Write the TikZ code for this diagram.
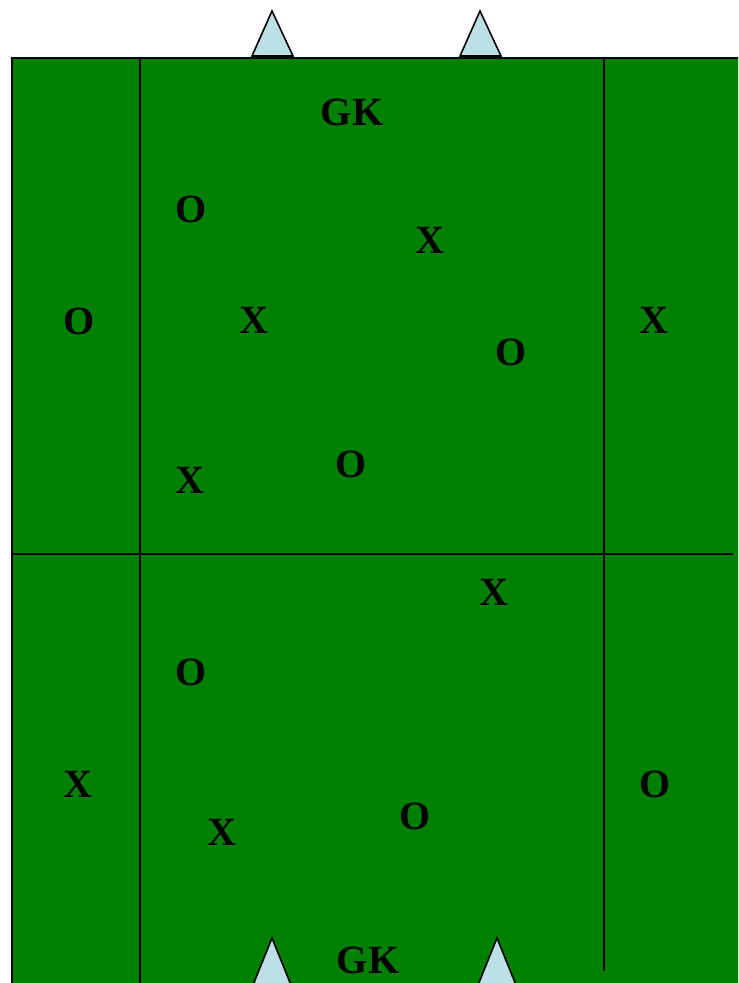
\documentclass[tikz,border=0pt]{standalone}
\usepackage{fontspec}
\setmainfont{Liberation Serif}
\usepackage{tikz}
\usetikzlibrary{positioning}
\definecolor{pitchgreen}{RGB}{0,128,0}
\definecolor{goalblue}{RGB}{188,224,230}

\begin{document}
\begin{tikzpicture}[
  x=0.02cm, y=-0.02cm,
  pitchline/.style={draw=black, line width=1.1pt},
  goalpost/.style={fill=goalblue, draw=black, line width=0.9pt, line join=miter},
  player/.style={font=\fontsize{22.8}{24}\selectfont\bfseries, inner sep=0pt, anchor=center}
]
  \useasboundingbox (0,0) rectangle (738,983);

  %% --- Pitch ---
  \begin{scope}
    \clip (0,0) rectangle (738,983);
    \fill[pitchgreen] (12,58) rectangle (745,990);
    \draw[pitchline] (12,990) -- (12,58) -- (745,58);

    %% --- Zone lines ---
    \draw[pitchline] (140,58) -- (140,990);
    \draw[pitchline] (604,58) -- (604,971);
    \draw[pitchline] (12,554) -- (733,554);

    %% --- Goal markers ---
    \draw[goalpost] (252,56) -- (272,11) -- (293,56) -- cycle;
    \draw[goalpost] (460,56) -- (480,11) -- (501,56) -- cycle;
    \draw[goalpost] (251,990) -- (272,938) -- (293,990) -- cycle;
    \draw[goalpost] (476,990) -- (497,938) -- (518,990) -- cycle;
  \end{scope}

  %% --- Top half ---
  \node[player] (gktop) at (352,112) {GK};
  \node[player] (o1) at (191,209) {O};
  \node[player] (x1) at (430,240) {X};
  \node[player] (o2) at (79,321)  {O};
  \node[player] (x2) at (254,320) {X};
  \node[player] (x3) at (654,320) {X};
  \node[player] (o3) at (511,352) {O};
  \node[player] (o4) at (351,464) {O};
  \node[player] (x4) at (190,480) {X};

  %% --- Bottom half ---
  \node[player] (x5) at (494,592) {X};
  \node[player] (o5) at (191,672) {O};
  \node[player] (x6) at (78,784)  {X};
  \node[player] (o6) at (655,784) {O};
  \node[player] (x7) at (222,832) {X};
  \node[player] (o7) at (415,816) {O};
  \node[player] (gkbot) at (368,960) {GK};

\end{tikzpicture}
\end{document}
